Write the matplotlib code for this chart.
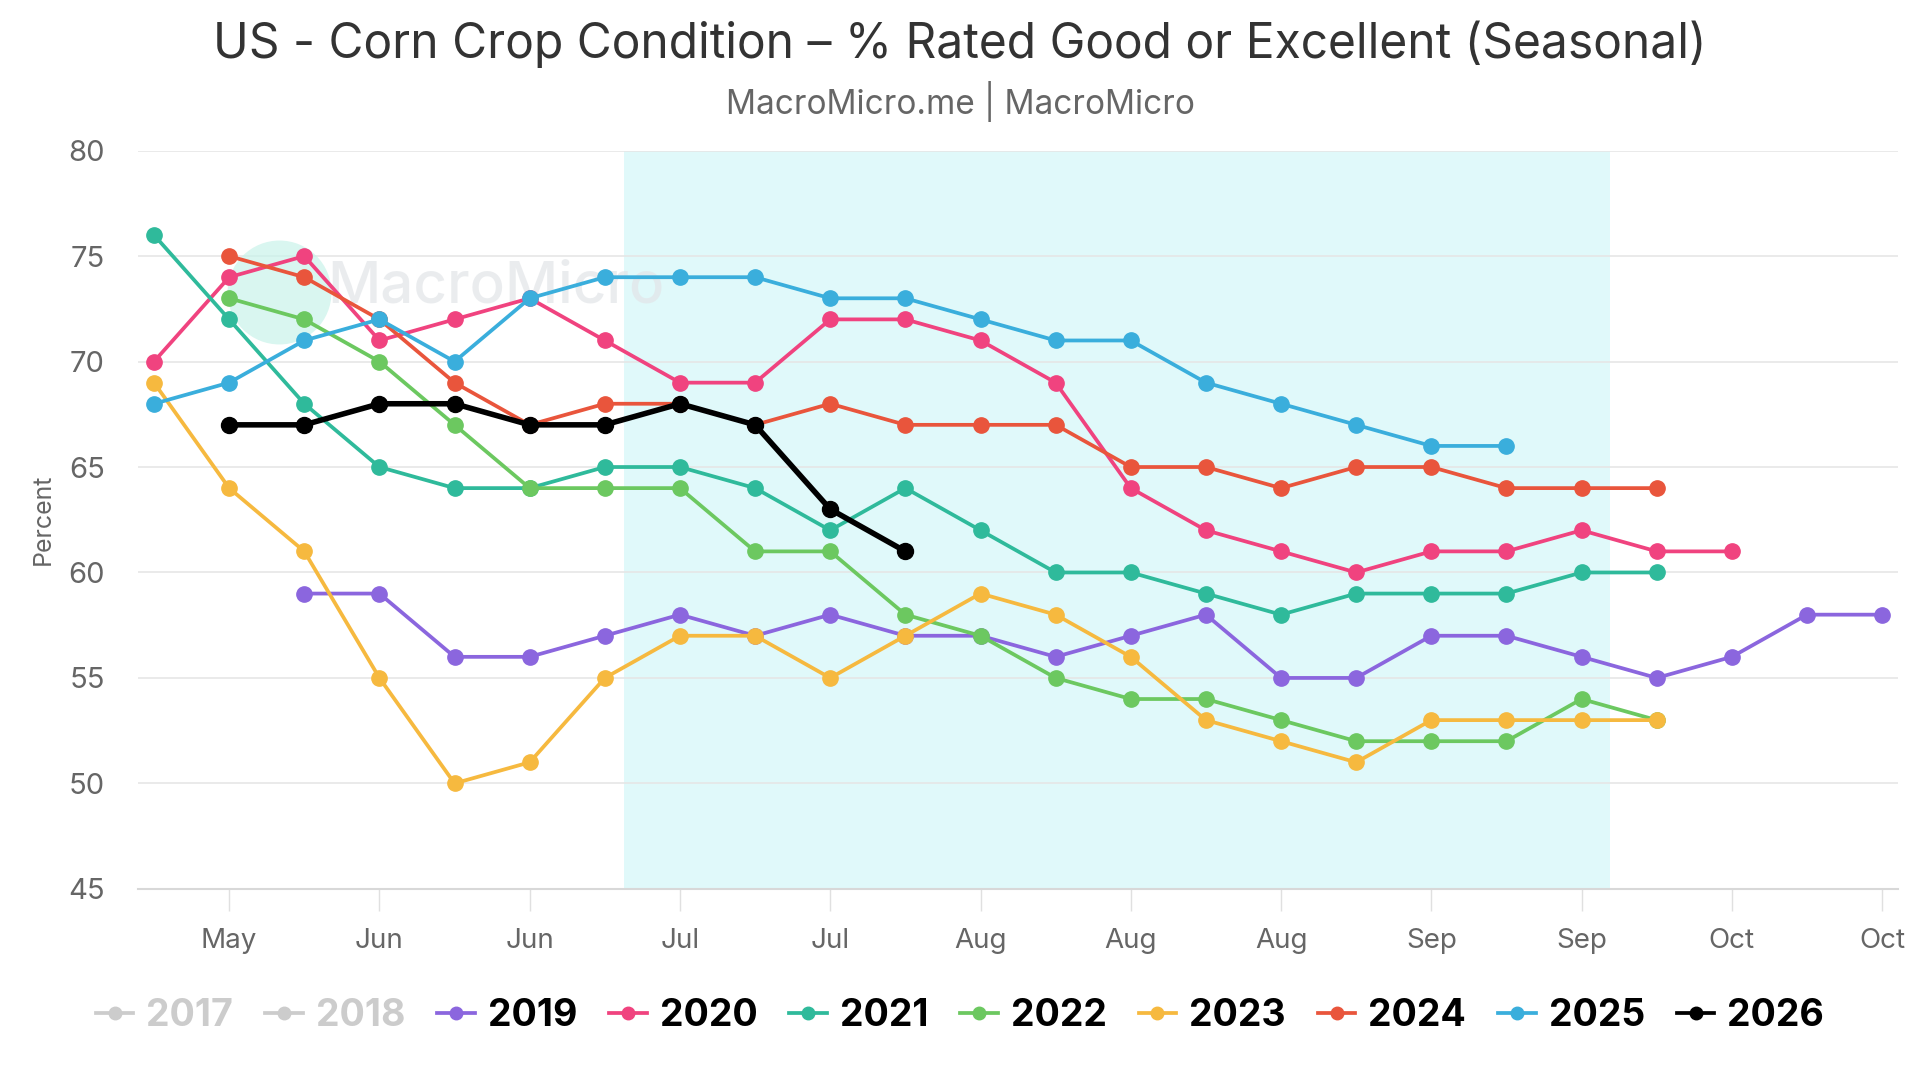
import numpy as np
import matplotlib.pyplot as plt
from matplotlib.lines import Line2D

nan = np.nan

# weekly slots, first week of the season at index 0
weeks = list(range(24))
tick_pos = [1, 3, 5, 7, 9, 11, 13, 15, 17, 19, 21, 23]
tick_labels = ["May", "Jun", "Jun", "Jul", "Jul", "Aug", "Aug", "Aug", "Sep", "Sep", "Oct", "Oct"]

y2019 = [nan, nan, 59, 59, 56, 56, 57, 58, 57, 58, 57, 57, 56, 57, 58, 55, 55, 57, 57, 56, 55, 56, 58, 58]
y2020 = [70, 74, 75, 71, 72, 73, 71, 69, 69, 72, 72, 71, 69, 64, 62, 61, 60, 61, 61, 62, 61, 61, nan, nan]
y2021 = [76, 72, 68, 65, 64, 64, 65, 65, 64, 62, 64, 62, 60, 60, 59, 58, 59, 59, 59, 60, 60, nan, nan, nan]
y2022 = [nan, 73, 72, 70, 67, 64, 64, 64, 61, 61, 58, 57, 55, 54, 54, 53, 52, 52, 52, 54, 53, nan, nan, nan]
y2023 = [69, 64, 61, 55, 50, 51, 55, 57, 57, 55, 57, 59, 58, 56, 53, 52, 51, 53, 53, 53, 53, nan, nan, nan]
y2024 = [nan, 75, 74, 72, 69, 67, 68, 68, 67, 68, 67, 67, 67, 65, 65, 64, 65, 65, 64, 64, 64, nan, nan, nan]
y2025 = [68, 69, 71, 72, 70, 73, 74, 74, 74, 73, 73, 72, 71, 71, 69, 68, 67, 66, 66, nan, nan, nan, nan, nan]
y2026 = [nan, 67, 67, 68, 68, 67, 67, 68, 67, 63, 61, nan, nan, nan, nan, nan, nan, nan, nan, nan, nan, nan, nan, nan]

years = ["2019", "2020", "2021", "2022", "2023", "2024", "2025", "2026"]
series = [y2019, y2020, y2021, y2022, y2023, y2024, y2025, y2026]
colors = ["#8b66de", "#f0437f", "#2fba9b", "#6cc860", "#f6b93f", "#e9553c", "#3aaedc", "#000000"]
hidden_years = ["2017", "2018"]

band = (6.25, 19.38)

plt.rcParams["font.family"] = ["Inter", "DejaVu Sans"]

fig = plt.figure(figsize=(19.2, 10.8), dpi=100)
ax = fig.add_axes([0.072, 0.177, 0.9165, 0.6835])

ax.axvspan(band[0], band[1], color="#e0f9fa", zorder=0, lw=0)

for yr, ys, c in zip(years, series, colors):
    lw = 4.0 if yr == "2026" else 2.7
    ms = 11.5 if yr == "2026" else 11
    ax.plot(weeks, ys, color=c, lw=lw, marker="o", ms=ms, zorder=3)

# watermark
ax.scatter([1.66], [73.3], s=5600, color="#c9f3ea", alpha=0.7, zorder=1, lw=0)
ax.text(2.3, 73.5, "MacroMicro", fontsize=42, color="#e2e5e8", alpha=0.7,
        ha="left", va="center", zorder=1, fontweight="medium")

ax.set_xlim(-0.21, 23.21)
ax.set_ylim(45, 80)
ax.set_yticks([45, 50, 55, 60, 65, 70, 75, 80])
ax.set_xticks(tick_pos)
ax.set_xticklabels(tick_labels)
ax.grid(axis="y", color="#e6e6e6", lw=1.2)
ax.set_axisbelow(True)
for s in ["top", "right", "left"]:
    ax.spines[s].set_visible(False)
ax.spines["bottom"].set_color("#d8d8d8")
ax.spines["bottom"].set_linewidth(1.5)
ax.tick_params(axis="x", length=16, width=1, color="#e0e0e0", pad=12,
               labelsize=20, labelcolor="#666666")
ax.tick_params(axis="y", length=0, pad=24, labelsize=21, labelcolor="#666666")
ax.set_ylabel("Percent", fontsize=18, color="#666666", labelpad=10)

fig.text(0.5, 0.959, "US - Corn Crop Condition – % Rated Good or Excellent (Seasonal)",
         ha="center", va="center", fontsize=34.5, color="#333333")
fig.text(0.5, 0.906, "MacroMicro.me | MacroMicro", ha="center", va="center",
         fontsize=24, color="#666666")

handles = []
labels = []
for yr in hidden_years:
    handles.append(Line2D([], [], color="#cccccc", lw=2.7, marker="o", ms=9))
    labels.append(yr)
for yr, c in zip(years, colors):
    handles.append(Line2D([], [], color=c, lw=2.7, marker="o", ms=9))
    labels.append(yr)
leg = fig.legend(handles, labels, loc="center", bbox_to_anchor=(0.5, 0.059), ncol=10,
                 frameon=False, handlelength=1.0, handletextpad=0.35,
                 columnspacing=0.85, prop={"weight": "bold", "size": 27})
for t in leg.get_texts():
    if t.get_text() in hidden_years:
        t.set_color("#cccccc")

fig.savefig("out.png", dpi=100)
